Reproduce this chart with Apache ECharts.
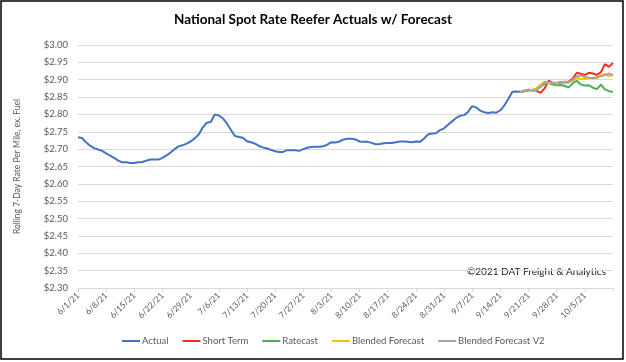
<!DOCTYPE html>
<html><head><meta charset="utf-8">
<script src="https://cdn.jsdelivr.net/npm/echarts@6/dist/echarts.min.js"></script>
<style>html,body{margin:0;padding:0;background:#fff}#c{width:626px;height:362px}</style>
</head><body><div id="c"></div>
<script>
// Daily categories 6/1/21 .. 10/12/21
const startDate = [2021, 5, 1];
const dayCount = 134;
const yTicks = { min: 2.30, max: 3.00, step: 0.05 };

const actual = [2.734,2.732,2.720,2.710,2.703,2.699,2.695,2.688,2.681,2.675,
2.667,2.662,2.662,2.660,2.660,2.662,2.663,2.667,2.670,2.670,
2.670,2.675,2.682,2.690,2.700,2.708,2.711,2.716,2.722,2.731,
2.742,2.762,2.776,2.778,2.800,2.797,2.789,2.774,2.756,2.738,
2.735,2.733,2.723,2.720,2.716,2.709,2.705,2.702,2.698,2.694,
2.692,2.692,2.697,2.697,2.697,2.695,2.700,2.704,2.706,2.707,
2.707,2.708,2.713,2.720,2.719,2.722,2.728,2.730,2.730,2.728,
2.722,2.721,2.721,2.718,2.714,2.715,2.717,2.718,2.718,2.720,
2.722,2.722,2.721,2.720,2.722,2.721,2.730,2.742,2.745,2.746,
2.755,2.760,2.770,2.780,2.790,2.796,2.798,2.808,2.824,2.820,
2.811,2.806,2.804,2.806,2.805,2.812,2.826,2.845,2.865,2.866,2.865];

const forecastStart = 110;
const shortTerm = [2.865,2.867,2.869,2.870,2.868,2.862,2.875,2.897,2.891,2.889,2.894,2.891,2.895,2.903,2.920,2.917,2.914,2.920,2.918,2.914,2.922,2.945,2.937,2.948];
const ratecast  = [2.865,2.867,2.870,2.871,2.874,2.880,2.888,2.891,2.886,2.884,2.885,2.882,2.878,2.890,2.897,2.886,2.883,2.884,2.877,2.873,2.886,2.872,2.867,2.865];
const blended   = [2.865,2.868,2.871,2.870,2.876,2.886,2.894,2.890,2.892,2.888,2.893,2.890,2.893,2.898,2.905,2.903,2.902,2.904,2.906,2.904,2.913,2.916,2.910,2.914];
const blendedV2 = [2.865,2.869,2.872,2.868,2.870,2.880,2.892,2.893,2.889,2.892,2.890,2.895,2.892,2.900,2.910,2.912,2.908,2.906,2.904,2.908,2.910,2.914,2.918,2.913];

const seriesNames = ['Actual','Short Term','Ratecast','Blended Forecast','Blended Forecast V2'];
const seriesColors = ['#4472C4','#FF2A1A','#4CAF50','#FFC000','#A5A5A5'];

const categories = [];
for (let i = 0; i < dayCount; i++) {
  const d = new Date(startDate[0], startDate[1], startDate[2] + i);
  categories.push((d.getMonth()+1) + '/' + d.getDate() + '/' + String(d.getFullYear()).slice(2));
}
function pad(arr, offset) {
  const out = new Array(dayCount).fill(null);
  arr.forEach((v, i) => { out[offset + i] = v; });
  return out;
}
const dataSets = [pad(actual,0), pad(shortTerm,forecastStart), pad(ratecast,forecastStart), pad(blended,forecastStart), pad(blendedV2,forecastStart)];

const chart = echarts.init(document.getElementById('c'), null, {renderer:'canvas'});
const txt = '#595959';
const ff = 'Lato';
chart.setOption({
  animation: false,
  textStyle: { fontFamily: ff },
  title: { text: 'National Spot Rate Reefer Actuals w/ Forecast', left: 'center', top: 8,
    textStyle: { fontSize: 13.5, fontWeight: 'bold', color: '#000', fontFamily: ff } },
  graphic: [
    { type: 'rect', shape: { x: 1, y: 1, width: 622, height: 358 }, style: { fill: 'none', stroke: '#000', lineWidth: 1.5 }, silent: true },
    { type: 'text', left: 467, top: 267, style: { text: '\u00a92021 DAT Freight & Analytics', fontSize: 10, fill: '#222', fontFamily: ff } }
  ],
  legend: { bottom: 11, left: 117, itemWidth: 18, itemHeight: 2, itemGap: 14, icon: 'rect',
    textStyle: { fontSize: 9.5, color: txt, padding: [0,0,0,-3], fontFamily: ff }, data: seriesNames },
  grid: { left: 78, right: 13, top: 45, bottom: 74 },
  xAxis: { type: 'category', data: categories, boundaryGap: false,
    axisLine: { lineStyle: { color: '#d9d9d9' } },
    axisTick: { show: true, interval: (i) => i % 7 === 0, length: 4, lineStyle: { color: '#d9d9d9' } },
    axisLabel: { interval: (i) => i % 7 === 0 && i < 130, rotate: 45, fontSize: 8.5, color: txt, margin: 6, fontFamily: ff } },
  yAxis: { type: 'value', min: yTicks.min, max: yTicks.max, interval: yTicks.step,
    name: 'Rolling 7-Day Rate Per Mile, ex. Fuel', nameLocation: 'middle', nameGap: 56, nameRotate: 90,
    nameTextStyle: { fontSize: 8.5, color: txt, fontFamily: ff },
    axisLabel: { formatter: v => '$' + v.toFixed(2), fontSize: 9.5, color: txt, margin: 10, fontFamily: ff },
    splitLine: { lineStyle: { color: '#d9d9d9' } }, axisLine: { show: false }, axisTick: { show: false } },
  series: seriesNames.map((n, k) => ({ name: n, type: 'line', data: dataSets[k], showSymbol: false, symbol: 'none',
    connectNulls: false, lineStyle: { width: 2, color: seriesColors[k] }, itemStyle: { color: seriesColors[k] }, z: 2 + k }))
});
</script></body></html>
